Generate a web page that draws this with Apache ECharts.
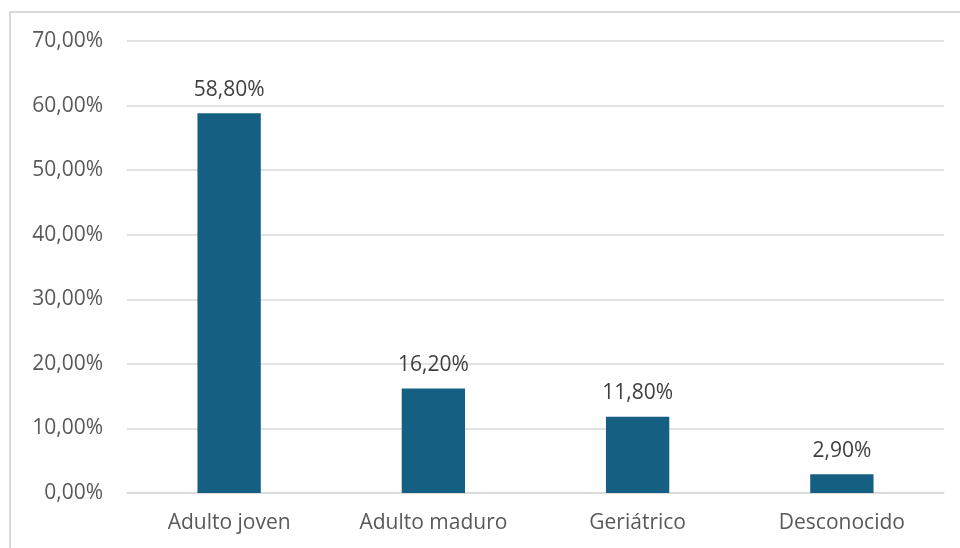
<!DOCTYPE html>
<html><head><meta charset="utf-8">
<script src="https://cdn.jsdelivr.net/npm/echarts@6/dist/echarts.min.js"></script>
<style>html,body{margin:0;padding:0;background:#fff;}#c{width:960px;height:548px;}</style>
</head><body><div id="c"></div>
<script>
const categories = ['Adulto joven', 'Adulto maduro', 'Geriátrico', 'Desconocido'];
const values = [58.8, 16.2, 11.8, 2.9];
const fmt = v => v.toFixed(2).replace('.', ',') + '%';
const chart = echarts.init(document.getElementById('c'));
const FONT = '"Open Sans", "Noto Sans", sans-serif';
chart.setOption({
  animation: false,
  textStyle: { fontFamily: FONT },
  graphic: [{ type: 'rect', shape: { x: 10, y: 12, width: 1000, height: 600 }, style: { fill: 'none', stroke: '#d9d9d9', lineWidth: 2 }, silent: true }],
  grid: { left: 127, right: 16, top: 41, bottom: 55 },
  xAxis: {
    type: 'category', data: categories,
    axisLine: { lineStyle: { color: '#d9d9d9', width: 1.5 } },
    axisTick: { show: false },
    axisLabel: { color: '#595959', fontSize: 21, margin: 20, fontFamily: FONT }
  },
  yAxis: {
    type: 'value', min: 0, max: 70, interval: 10,
    axisLine: { show: false }, axisTick: { show: false },
    splitLine: { lineStyle: { color: '#d9d9d9', width: 1.5 } },
    axisLabel: { color: '#595959', fontSize: 21, margin: 24, formatter: v => fmt(v), fontFamily: FONT }
  },
  series: [{
    type: 'bar', data: values, barWidth: '31%',
    itemStyle: { color: '#156082' },
    label: { show: true, position: 'top', distance: 13, color: '#404040', fontSize: 21, formatter: p => fmt(p.value), fontFamily: FONT }
  }]
});
</script></body></html>
